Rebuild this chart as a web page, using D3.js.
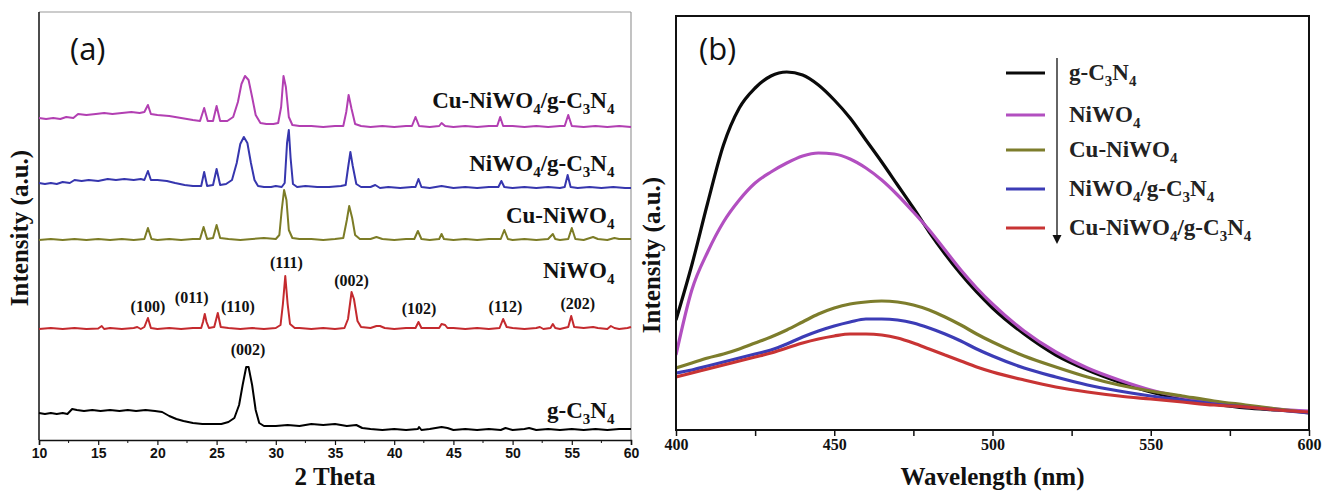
<!DOCTYPE html>
<html>
<head>
<meta charset="utf-8">
<script src="https://cdn.jsdelivr.net/npm/d3@7"></script>
<style>
  body { margin: 0; background: #fff; }
  svg { display: block; }
</style>
</head>
<body>
<div id="chart"></div>
<script>
// ---------- panel (a) : XRD patterns, [2theta, intensity above own baseline] ----------
var xrdNames = ['g-C_3N_4', 'NiWO_4', 'Cu-NiWO_4', 'NiWO_4/g-C_3N_4', 'Cu-NiWO_4/g-C_3N_4'];
var xrdColors = ['#000000', '#c42a2e', '#7c7c26', '#3636ae', '#b23fb2'];
var xrdOffsets = [10, 111, 200, 252, 313];
var xrdLabelPos = [30, 170, 225, 277, 340];

var xrdGC3N4 = [[10,17],[10.5,16],[11,17],[11.5,16],[12,17],[12.4,16],[12.8,21],[13.2,20],[13.8,19],[14.5,20],[15.2,19],[16,20],[16.8,19],[17.5,20],[18.2,19],[19,20],[19.8,19],[20.4,18],[21,14],[21.6,11],[22.2,9],[23,7],[23.8,6],[24.6,6],[25.4,6],[26,8],[26.5,12],[26.9,25],[27.2,45],[27.5,63],[27.7,63],[28,45],[28.3,20],[28.6,7],[29,4],[30,4],[31,5],[32,4],[33,6],[34,5],[35,6],[36,4],[36.8,5],[37.3,2],[38,1],[39,0],[40,1],[41,0],[42,1],[42.1,3],[42.3,0],[43,1],[44,3],[44.5,2],[45,0],[46,1],[47,0],[48,1],[49,0],[49.4,2],[50,0],[51,1],[51.4,2],[52,0],[53,1],[54,0],[55,1],[56,0],[57,1],[58,0],[59,1],[60,1]];
var xrdNiWO4 = [[10,0],[11,1],[12,0],[13,1],[14,0],[15,0.5],[15.3,3],[15.5,0],[16,1],[17,0],[18,1],[18.3,2],[18.6,0],[18.9,2],[19.2,11],[19.45,1],[20,0],[21,1],[22,0],[23,1],[23.7,1],[23.85,7],[24,15],[24.15,7],[24.35,1],[24.8,2],[25.1,16],[25.35,2],[26,1],[27,0],[28,1],[29,0],[30,1],[30.4,4],[30.6,25],[30.8,53],[31,25],[31.2,5],[31.6,1],[32,1],[33,0],[34,1],[35,0],[35.8,1],[36.1,10],[36.4,37],[36.6,30],[36.9,8],[37.2,2],[38,1],[38.5,3],[38.8,3],[39.2,1],[40,0],[41,1],[41.8,1],[42.05,7],[42.3,1],[43,1],[43.8,1],[44,5],[44.3,4],[44.5,1],[45,1],[46,0],[47,1],[48,0],[48.9,1],[49.2,10],[49.5,2],[50,1],[51,0],[52,1],[52.3,2],[52.6,0],[53.2,1],[53.4,5],[53.6,1],[54,0],[54.7,2],[54.95,13],[55.2,2],[56,1],[56.8,2],[57.2,1],[58,0],[58.3,3],[58.6,1],[59,0],[59.7,1],[60,2]];
var xrdCuNiWO4 = [[10,0],[11,1],[12,0],[13,1],[14,0],[15,1],[16,0],[17,1],[18,0],[18.9,1],[19.2,12],[19.5,1],[20,0],[21,1],[22,0],[23,1],[23.6,1],[23.9,13],[24.2,1],[24.7,2],[25,15],[25.3,2],[26,1],[27,0],[28,1],[29,2],[30,1],[30.3,5],[30.5,30],[30.7,50],[30.9,40],[31.1,10],[31.4,2],[32,1],[33,1],[34,0],[35,1],[35.7,2],[36,20],[36.2,34],[36.45,22],[36.7,5],[37.1,1],[38,1],[38.5,3],[39,1],[40,0],[41,1],[41.7,1],[42,9],[42.3,1],[43,0],[43.8,1],[44,6],[44.2,1],[45,0],[46,1],[47,0],[48,1],[49,1],[49.3,10],[49.6,1],[50,0],[51,1],[52,0],[53,1],[53.4,6],[53.6,1],[54,0],[54.7,1],[55,12],[55.3,1],[56,0],[56.8,3],[57.2,1],[58,0],[58.6,2],[59,1],[60,1]];
var xrdNiWO4GCN = [[10,5],[10.5,4],[11,5],[11.5,4],[12,6],[12.6,5],[13,8],[13.6,7],[14.2,8],[15,7],[15.8,9],[16.5,8],[17.2,9],[18,8],[18.6,9],[18.9,8],[19.2,17],[19.45,8],[20,8],[20.8,7],[21.5,5],[22.3,3],[23,2],[23.7,2],[23.95,16],[24.2,2],[24.7,3],[25,19],[25.3,3],[25.8,4],[26.3,8],[26.7,25],[27,44],[27.3,51],[27.6,45],[27.9,25],[28.2,8],[28.5,2],[29,1],[29.6,1],[30,2],[30.5,1],[30.75,5],[30.95,45],[31.1,58],[31.25,30],[31.45,4],[31.8,1],[32.5,2],[33.5,1],[34.5,1],[35.5,2],[35.9,3],[36.1,20],[36.3,36],[36.5,22],[36.8,4],[37.2,1],[38,1],[38.4,3],[38.8,0],[39.5,1],[40.5,0],[41.5,1],[41.8,1],[42.05,9],[42.3,1],[43,0],[44,2],[44.5,1],[45,0],[46,1],[47,0],[48,1],[48.8,1],[49.05,7],[49.3,1],[50,0],[51,1],[52,0],[53,1],[54,0],[54.4,1],[54.65,13],[54.9,1],[55.5,0],[56.5,1],[57.5,0],[58.5,1],[59.5,0],[60,0]];
var xrdCuNiWO4GCN = [[10,9],[10.6,8],[11.2,9],[11.8,8],[12.3,10],[12.9,9],[13.3,13],[14,12],[14.8,13],[15.5,14],[16.2,13],[17,14],[17.8,15],[18.5,14],[18.9,15],[19.2,22],[19.45,13],[20,12],[21,11],[22,9],[23,7],[23.6,6],[23.95,19],[24.25,6],[24.7,6],[25,21],[25.3,6],[25.9,6],[26.4,10],[26.8,25],[27.1,43],[27.4,51],[27.7,47],[28,30],[28.3,12],[28.7,4],[29.2,3],[29.8,3],[30.2,4],[30.45,20],[30.65,51],[30.85,40],[31.1,10],[31.4,2],[32,1],[33,1],[34,0],[35,1],[35.7,1],[35.95,15],[36.15,32],[36.4,18],[36.7,3],[37.2,1],[38,0],[39,1],[40,0],[41,1],[41.5,1],[41.8,10],[42.1,1],[43,0],[43.8,1],[44,4],[44.3,1],[45,0],[46,1],[47,0],[48,1],[48.7,1],[48.95,10],[49.2,1],[50,1],[51,0],[52,1],[53,0],[54,1],[54.4,1],[54.7,12],[55,1],[56,0],[57,1],[58,0],[59,1],[60,0]];
var xrdSeries = [xrdGC3N4, xrdNiWO4, xrdCuNiWO4, xrdNiWO4GCN, xrdCuNiWO4GCN];

// hkl labels: [2theta, absolute intensity, text]
var hklLabels = [[19.2,134,'(100)'],[22.9,143,'(011)'],[26.8,134,'(110)'],[30.9,178,'(111)'],
  [36.4,160,'(002)'],[42.1,132,'(102)'],[49.4,134,'(112)'],[55.5,137,'(202)'],[27.65,91,'(002)']];
var xrdTicks = [10,15,20,25,30,35,40,45,50,55,60];

// ---------- panel (b) : PL spectra ----------
var plWave = [400,405,410,415,420,425,430,435,440,445,450,455,460,465,470,475,480,485,490,495,500,510,520,530,540,550,560,570,580,590,600];
var plGC3N4 = [110,165,227,285,322,342,354,358,355,345,330,312,290,268,245,222,198,176,156,138,122,96,75,60,48,38,31,26,22,20,18];
var plNiWO4 = [75,140,178,208,230,247,258,267,274,277,276,271,262,250,235,218,200,180,160,142,126,99,78,62,50,40,33,28,24,21,19];
var plCuNiWO4 = [62,67,72,76,81,87,93,100,108,116,122,126,128,129,128,125,120,113,105,96,88,74,63,53,45,39,34,29,25,21,17];
var plNiWO4GCN = [57,60,64,68,72,76,80,86,93,99,104,108,111,111,110,107,102,96,89,81,74,62,53,45,39,34,30,26,23,20,17];
var plCuNiWO4GCN = [53,57,61,65,69,73,77,82,87,91,94,96,96,95,92,87,81,75,69,63,58,50,43,38,34,31,28,25,23,20,18];
var plNames = ['g-C_3N_4', 'NiWO_4', 'Cu-NiWO_4', 'NiWO_4/g-C_3N_4', 'Cu-NiWO_4/g-C_3N_4'];
var plColors = ['#0a0a0a', '#b24fc0', '#7d7d2c', '#3c3cb6', '#c83434'];
var plSeries = [plGC3N4, plNiWO4, plCuNiWO4, plNiWO4GCN, plCuNiWO4GCN];
var plTicks = [400,450,500,550,600];

var serif = '"Liberation Serif", "Times New Roman", serif';

// writes "NiWO_4" style text with real subscripts
function richText(sel, str, size) {
	var parts = str.split(/(_\d)/).filter(function(p) { return p.length; });
	var shift = Math.round(size * 0.28);
	var down = false;
	parts.forEach(function(p) {
		if (p[0] === '_') {
			sel.append('tspan').text(p.slice(1))
				.style('font-size', Math.round(size * 0.66) + 'px')
				.attr('dy', shift);
			down = true;
		} else {
			var t = sel.append('tspan').text(p);
			if (down) { t.attr('dy', -shift); down = false; }
		}
	});
}

var svg = d3.select('#chart').append('svg')
	.attr('width', 1324)
	.attr('height', 492)
	.style('background', '#fff');

// ================= panel (a) =================
var a = {left: 39, right: 631, top: 12, bottom: 440};

var xa = d3.scaleLinear().domain([10, 60]).range([a.left, a.right]);
var ya = d3.scaleLinear().domain([0, 428]).range([a.bottom, a.top]);

var ga = svg.append('g');

// frame: dark left/bottom, light top/right
ga.append('line').attr('x1', a.left).attr('x2', a.right).attr('y1', a.top).attr('y2', a.top)
	.attr('stroke', '#9a9a9a').attr('stroke-width', 1.2);
ga.append('line').attr('x1', a.right).attr('x2', a.right).attr('y1', a.top).attr('y2', a.bottom)
	.attr('stroke', '#9a9a9a').attr('stroke-width', 1.2);
ga.append('line').attr('x1', a.left).attr('x2', a.left).attr('y1', a.top).attr('y2', a.bottom)
	.attr('stroke', '#111').attr('stroke-width', 1.5);

var xaAxis = d3.axisBottom(xa)
	.tickValues(xrdTicks)
	.tickSize(5)
	.tickPadding(3)
	.tickFormat(d3.format('d'));

var xaG = ga.append('g')
	.attr('transform', 'translate(0,' + a.bottom + ')')
	.call(xaAxis);
xaG.select('.domain').attr('stroke', '#111').attr('stroke-width', 1.5);
xaG.selectAll('.tick line').attr('stroke', '#111').attr('stroke-width', 1.2);
xaG.selectAll('text')
	.style('font-family', '"Liberation Sans", Arial, sans-serif')
	.style('font-weight', 'bold')
	.style('font-size', '14px')
	.attr('fill', '#111');

xaG.selectAll('.minor')
	.data(xrdTicks.slice(0, -1))
	.enter()
	.append('line')
	.attr('x1', function(d) { return xa(d + 2.5); })
	.attr('x2', function(d) { return xa(d + 2.5); })
	.attr('y1', 0).attr('y2', 3)
	.attr('stroke', '#111').attr('stroke-width', 1);

var lineA = d3.line()
	.x(function(d) { return xa(d[0]); });

xrdSeries.forEach(function(s, i) {
	var off = xrdOffsets[i];
	ga.append('path')
		.datum(s)
		.attr('fill', 'none')
		.attr('stroke', xrdColors[i])
		.attr('stroke-width', 2)
		.attr('stroke-linejoin', 'round')
		.attr('d', lineA.y(function(d) { return ya(d[1] + off); }));
});

xrdNames.forEach(function(n, i) {
	var t = ga.append('text')
		.attr('x', xa(58.6))
		.attr('y', ya(xrdLabelPos[i]))
		.attr('dy', '0.35em')
		.attr('text-anchor', 'end')
		.style('font-family', serif)
		.style('font-weight', 'bold')
		.style('font-size', '23px')
		.attr('fill', '#111');
	richText(t, n, 23);
});

ga.selectAll('.hkl')
	.data(hklLabels)
	.enter()
	.append('text')
	.attr('x', function(d) { return xa(d[0]); })
	.attr('y', function(d) { return ya(d[1]); })
	.attr('dy', '0.35em')
	.attr('text-anchor', 'middle')
	.style('font-family', serif)
	.style('font-weight', 'bold')
	.style('font-size', '16px')
	.attr('fill', '#111')
	.text(function(d) { return d[2]; });

ga.append('text')
	.text('(a)')
	.attr('x', 70)
	.attr('y', 60)
	.style('font-family', '"Open Sans", sans-serif')
	.style('font-size', '31px')
	.attr('fill', '#111');

ga.append('text')
	.text('2 Theta')
	.attr('x', (a.left + a.right) / 2)
	.attr('y', 485)
	.attr('text-anchor', 'middle')
	.style('font-family', serif)
	.style('font-weight', 'bold')
	.style('font-size', '25px')
	.attr('fill', '#111');

ga.append('text')
	.text('Intensity (a.u.)')
	.attr('transform', 'translate(28,' + 228 + ') rotate(-90)')
	.attr('text-anchor', 'middle')
	.style('font-family', serif)
	.style('font-weight', 'bold')
	.style('font-size', '25px')
	.attr('fill', '#111');

// ================= panel (b) =================
var b = {left: 676, right: 1309, top: 16, bottom: 430};

var xb = d3.scaleLinear().domain([400, 600]).range([b.left, b.right]);
var yb = d3.scaleLinear().domain([0, 414]).range([b.bottom, b.top]);

var gb = svg.append('g');

gb.append('clipPath').attr('id', 'clipb')
	.append('rect')
	.attr('x', b.left).attr('y', b.top)
	.attr('width', b.right - b.left).attr('height', b.bottom - b.top);

var lineB = d3.line()
	.x(function(d, i) { return xb(plWave[i]); })
	.y(function(d) { return yb(d); })
	.curve(d3.curveMonotoneX);

gb.selectAll('.pl')
	.data(plSeries)
	.enter()
	.append('path')
	.attr('clip-path', 'url(#clipb)')
	.attr('fill', 'none')
	.attr('stroke', function(d, i) { return plColors[i]; })
	.attr('stroke-width', 3.2)
	.attr('d', lineB);

gb.append('rect')
	.attr('x', b.left).attr('y', b.top)
	.attr('width', b.right - b.left).attr('height', b.bottom - b.top)
	.attr('fill', 'none')
	.attr('stroke', '#111')
	.attr('stroke-width', 2);

var xbAxis = d3.axisBottom(xb)
	.tickValues(d3.range(400, 601, 25))
	.tickSize(6)
	.tickPadding(3)
	.tickFormat(function(d) { return plTicks.indexOf(d) >= 0 ? d : ''; });

var xbG = gb.append('g')
	.attr('transform', 'translate(0,' + b.bottom + ')')
	.call(xbAxis);
xbG.select('.domain').remove();
xbG.selectAll('.tick line').attr('stroke', '#111').attr('stroke-width', 1.5);
xbG.selectAll('text')
	.style('font-family', serif)
	.style('font-weight', 'bold')
	.style('font-size', '16px')
	.attr('fill', '#111');

gb.append('text')
	.text('(b)')
	.attr('x', 699)
	.attr('y', 60)
	.style('font-family', '"Open Sans", sans-serif')
	.style('font-size', '31px')
	.attr('fill', '#111');

gb.append('text')
	.text('Wavelength (nm)')
	.attr('x', (b.left + b.right) / 2)
	.attr('y', 485)
	.attr('text-anchor', 'middle')
	.style('font-family', serif)
	.style('font-weight', 'bold')
	.style('font-size', '25px')
	.attr('fill', '#111');

gb.append('text')
	.text('Intensity (a.u.)')
	.attr('transform', 'translate(660,' + 255 + ') rotate(-90)')
	.attr('text-anchor', 'middle')
	.style('font-family', serif)
	.style('font-weight', 'bold')
	.style('font-size', '25px')
	.attr('fill', '#111');

// legend with downward arrow
var legRows = [73, 115, 150, 189, 228];
var leg = gb.append('g');
plNames.forEach(function(n, i) {
	leg.append('line')
		.attr('x1', 1006).attr('x2', 1045)
		.attr('y1', legRows[i]).attr('y2', legRows[i])
		.attr('stroke', plColors[i])
		.attr('stroke-width', 3);
	var t = leg.append('text')
		.attr('x', 1069)
		.attr('y', legRows[i])
		.attr('dy', '0.3em')
		.style('font-family', serif)
		.style('font-weight', 'bold')
		.style('font-size', '23px')
		.attr('fill', '#222');
	richText(t, n, 23);
});

leg.append('line')
	.attr('x1', 1057).attr('x2', 1057)
	.attr('y1', 58).attr('y2', 236)
	.attr('stroke', '#111')
	.attr('stroke-width', 1.3);
leg.append('path')
	.attr('d', 'M1052.5,235 L1061.5,235 L1057,244 Z')
	.attr('fill', '#111');
</script>
</body>
</html>
